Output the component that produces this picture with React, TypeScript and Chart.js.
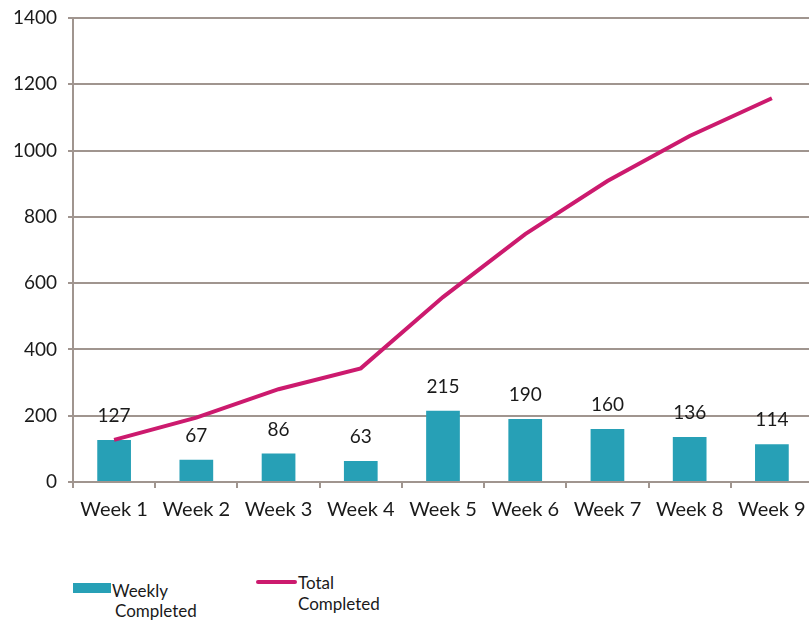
import React, { useEffect, useRef } from "react";
import { Chart, registerables } from "chart.js";

Chart.register(...registerables);

const categories = ["Week 1", "Week 2", "Week 3", "Week 4", "Week 5", "Week 6", "Week 7", "Week 8", "Week 9"];
const weeklyCompleted = [127, 67, 86, 63, 215, 190, 160, 136, 114];
const totalCompleted = [127, 194, 280, 343, 558, 748, 908, 1044, 1158];
const yTicks = [0, 200, 400, 600, 800, 1000, 1200, 1400];

const FONT = "Lato, 'Open Sans', sans-serif";
const TEAL = "#27a0b6";
const MAGENTA = "#cc1a6e";
const GRID = "#a0958f";

const barLabels = {
  id: "barLabels",
  afterDatasetsDraw(chart: any) {
    const ctx = chart.ctx;
    const meta = chart.getDatasetMeta(0);
    ctx.save();
    ctx.font = `19px ${FONT}`;
    ctx.fillStyle = "#1a1a1a";
    ctx.textAlign = "center";
    ctx.textBaseline = "middle";
    meta.data.forEach((bar: any, i: number) => {
      ctx.fillText(String(weeklyCompleted[i]), bar.x, bar.y - 24);
    });
    ctx.restore();
  },
};

export default function App() {
  const ref = useRef<HTMLCanvasElement>(null);
  useEffect(() => {
    document.body.style.margin = "0";
    const chart = new Chart(ref.current!, {
      type: "bar",
      data: {
        labels: categories,
        datasets: [
          {
            type: "bar",
            label: "Weekly Completed",
            data: weeklyCompleted,
            backgroundColor: TEAL,
            categoryPercentage: 1,
            barPercentage: 0.41,
            order: 2,
          },
          {
            type: "line",
            label: "Total Completed",
            data: totalCompleted,
            borderColor: MAGENTA,
            backgroundColor: MAGENTA,
            borderWidth: 4,
            pointRadius: 0,
            tension: 0,
            order: 1,
          } as any,
        ],
      },
      options: {
        animation: false,
        responsive: false,
        maintainAspectRatio: false,
        layout: { padding: { top: 18, right: 0, left: 0, bottom: 0 } },
        plugins: { legend: { display: false }, tooltip: { enabled: false } },
        scales: {
          x: {
            offset: true,
            grid: { display: true, drawOnChartArea: false, color: GRID, lineWidth: 2, tickLength: 6, offset: true },
            border: { display: false },
            ticks: { color: "#1a1a1a", font: { family: FONT, size: 20 }, padding: 10, maxRotation: 0, autoSkip: false },
            afterFit: (s: any) => { s.height = 40; s.paddingLeft = 0; s.paddingRight = 0; },
          },
          y: {
            min: 0,
            max: 1400,
            afterBuildTicks: (s: any) => { s.ticks = yTicks.map((v) => ({ value: v })); },
            grid: { color: GRID, lineWidth: 2, tickLength: 5 },
            border: { display: true, color: GRID, width: 2 },
            ticks: {
              color: "#1a1a1a",
              font: { family: FONT, size: 19 },
              padding: 11,
              callback: (v: any) => String(v),
            },
            afterFit: (s: any) => { s.width = 73; s.paddingTop = 0; s.paddingBottom = 0; },
          },
        },
      },
      plugins: [barLabels],
    });
    return () => chart.destroy();
  }, []);

  const text: React.CSSProperties = { position: "absolute", fontFamily: FONT, fontSize: 17, color: "#1a1a1a", lineHeight: "20px" };
  return (
    <div style={{ position: "relative", width: 813, height: 621, overflow: "hidden" }}>
      <canvas ref={ref} width={813} height={522} style={{ position: "absolute", left: 0, top: 0, width: 813, height: 522 }} />
      <div style={{ position: "absolute", left: 73, top: 583, width: 38, height: 10, background: TEAL }} />
      <div style={{ ...text, left: 112, top: 581 }}>Weekly</div>
      <div style={{ ...text, left: 115, top: 601 }}>Completed</div>
      <div style={{ position: "absolute", left: 256, top: 580, width: 41, height: 4, background: MAGENTA, borderRadius: 2 }} />
      <div style={{ ...text, left: 298, top: 573 }}>Total</div>
      <div style={{ ...text, left: 298, top: 594 }}>Completed</div>
    </div>
  );
}
